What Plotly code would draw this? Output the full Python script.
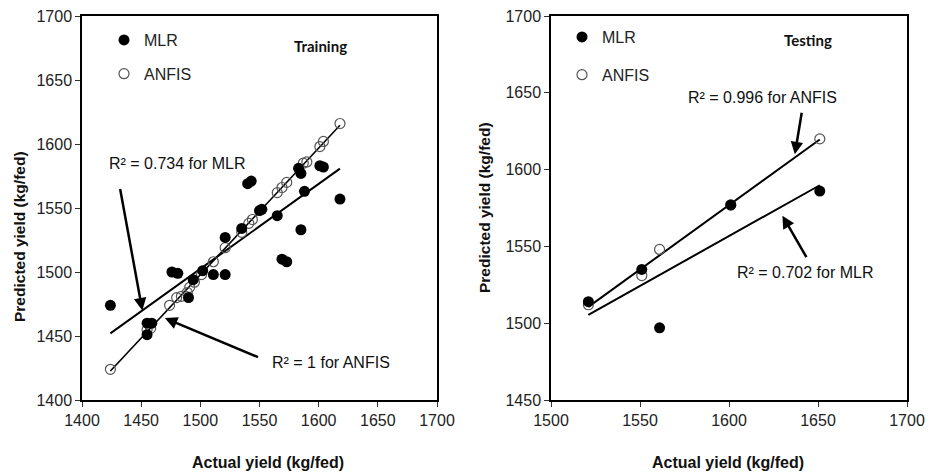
import numpy as np
import plotly.graph_objects as go

W, H = 929, 474

# ---------------- data ----------------
# Training (left panel)
train_mlr_actual = [1424, 1455, 1459, 1455, 1476, 1481, 1490, 1494, 1502, 1511, 1521, 1521,
                    1535, 1540, 1543, 1550, 1552, 1565, 1569, 1573, 1583, 1585, 1585, 1588,
                    1601, 1604, 1618]
train_mlr_pred = [1474, 1460, 1460, 1451, 1500, 1499, 1480, 1494, 1501, 1498, 1498, 1527,
                  1534, 1569, 1571, 1548, 1549, 1544, 1510, 1508, 1581, 1577, 1533, 1563,
                  1583, 1582, 1557]
train_anfis_actual = [1424, 1455, 1458, 1474, 1480, 1484, 1489, 1491, 1495, 1501, 1511, 1521,
                      1535, 1541, 1544, 1565, 1569, 1573, 1587, 1590, 1601, 1604, 1618]
train_anfis_pred = [1424, 1455, 1456, 1474, 1480, 1481, 1484, 1488, 1492, 1498, 1508, 1519,
                    1531, 1538, 1541, 1562, 1566, 1570, 1585, 1586, 1598, 1602, 1616]

# Testing (right panel)
test_mlr_actual = [1521, 1551, 1561, 1601, 1651]
test_mlr_pred = [1514, 1535, 1497, 1577, 1586]
test_anfis_actual = [1521, 1551, 1561, 1601, 1651]
test_anfis_pred = [1512, 1531, 1548, 1577, 1620]

left_x_ticks = [1400, 1450, 1500, 1550, 1600, 1650, 1700]
left_y_ticks = [1400, 1450, 1500, 1550, 1600, 1650, 1700]
right_x_ticks = [1500, 1550, 1600, 1650, 1700]
right_y_ticks = [1450, 1500, 1550, 1600, 1650, 1700]

FONT = "Liberation Sans, Arial, sans-serif"


def px(x, y):
    return x / W, 1 - y / H


def fit_line(x, y):
    x = np.asarray(x, float)
    y = np.asarray(y, float)
    k, b = np.polyfit(x, y, 1)
    xs = np.array([x.min(), x.max()])
    return xs, k * xs + b


fig = go.Figure()

# regression lines
for xa, ya, xax, yax, w in [
    (train_mlr_actual, train_mlr_pred, "x", "y", 2),
    (train_anfis_actual, train_anfis_pred, "x", "y", 1.6),
    (test_mlr_actual, test_mlr_pred, "x2", "y2", 2),
    (test_anfis_actual, test_anfis_pred, "x2", "y2", 2),
]:
    lx, ly = fit_line(xa, ya)
    fig.add_trace(go.Scatter(x=lx, y=ly, mode="lines", xaxis=xax, yaxis=yax,
                             line=dict(color="black", width=w), showlegend=False,
                             hoverinfo="skip"))

open_marker = dict(symbol="circle-open", size=10, color="#555555", line=dict(width=1.2))
fill_marker = dict(symbol="circle", size=11, color="black")

fig.add_trace(go.Scatter(x=train_anfis_actual, y=train_anfis_pred, mode="markers", name="ANFIS",
                         marker=open_marker, xaxis="x", yaxis="y", legend="legend",
                         legendgroup="a", legendrank=2))
fig.add_trace(go.Scatter(x=train_mlr_actual, y=train_mlr_pred, mode="markers", name="MLR",
                         marker=fill_marker, xaxis="x", yaxis="y", legend="legend",
                         legendgroup="m", legendrank=1))
fig.add_trace(go.Scatter(x=test_anfis_actual, y=test_anfis_pred, mode="markers", name="ANFIS",
                         marker=open_marker, xaxis="x2", yaxis="y2", legend="legend2",
                         legendgroup="a2", legendrank=2))
fig.add_trace(go.Scatter(x=test_mlr_actual, y=test_mlr_pred, mode="markers", name="MLR",
                         marker=fill_marker, xaxis="x2", yaxis="y2", legend="legend2",
                         legendgroup="m2", legendrank=1))

axis_common = dict(showgrid=False, zeroline=False, showline=True, linecolor="black",
                   linewidth=1.5, mirror=True, ticks="outside", ticklen=5, tickcolor="#333",
                   automargin=False,
                   tickfont=dict(family=FONT, size=16, color="#222"))

lx0, ly0 = px(82, 400)
lx1, ly1 = px(437, 16)
rx0, _ = px(551, 400)
rx1, _ = px(907, 16)

fig.update_layout(
    template="none",
    width=W, height=H,
    margin=dict(l=0, r=0, t=0, b=0, pad=0, autoexpand=False),
    paper_bgcolor="white", plot_bgcolor="white",
    xaxis=dict(domain=[lx0, lx1], range=[1400, 1700], tickvals=left_x_ticks, anchor="y", **axis_common),
    yaxis=dict(domain=[ly0, ly1], range=[1400, 1700], tickvals=left_y_ticks, anchor="x", **axis_common),
    xaxis2=dict(domain=[rx0, rx1], range=[1500, 1700], tickvals=right_x_ticks, anchor="y2", **axis_common),
    yaxis2=dict(domain=[ly0, ly1], range=[1450, 1700], tickvals=right_y_ticks, anchor="x2", **axis_common),
    legend=dict(x=px(104, 0)[0], y=px(0, 23)[1], xanchor="left", yanchor="top",
                font=dict(family=FONT, size=16, color="#222"), bgcolor="rgba(0,0,0,0)",
                traceorder="grouped", tracegroupgap=10),
    legend2=dict(x=px(562, 0)[0], y=px(0, 20)[1], xanchor="left", yanchor="top",
                 font=dict(family=FONT, size=16, color="#222"), bgcolor="rgba(0,0,0,0)",
                 traceorder="grouped", tracegroupgap=14),
)

ann = []


def text_px(t, x, y, size=16, bold=False, family=FONT, angle=0):
    ax, ay = px(x, y)
    ann.append(dict(text=f"<b>{t}</b>" if bold else t, x=ax, y=ay, xref="paper", yref="paper",
                    showarrow=False, xanchor="center", yanchor="middle", textangle=angle,
                    font=dict(family=family, size=size, color="#111")))


text_px("Training", 320, 46, size=15, bold=True, family="Lato, Open Sans, sans-serif")
text_px("Testing", 808, 40, size=15, bold=True, family="Lato, Open Sans, sans-serif")
text_px("R² = 0.734 for MLR", 177, 163)
text_px("R² = 1 for ANFIS", 331, 362)
text_px("R² = 0.996 for ANFIS", 762, 97)
text_px("R² = 0.702 for MLR", 805, 272)
text_px("Actual yield (kg/fed)", 268, 462, size=16, bold=True)
text_px("Actual yield (kg/fed)", 728, 462, size=16, bold=True)
text_px("Predicted yield (kg/fed)", 19, 237, size=15.5, bold=True, angle=-90)
text_px("Predicted yield (kg/fed)", 484, 208, size=15.5, bold=True, angle=-90)


def arrow(xref, yref, tail, head):
    ann.append(dict(text="", x=head[0], y=head[1], ax=tail[0], ay=tail[1],
                    xref=xref, yref=yref, axref=xref, ayref=yref, showarrow=True,
                    arrowhead=2, arrowsize=1, arrowwidth=2.5, arrowcolor="black"))


arrow("x", "y", (1432, 1566), (1451, 1470))
arrow("x", "y", (1550, 1433), (1470, 1464))
arrow("x2", "y2", (1641, 1638), (1637, 1610))
arrow("x2", "y2", (1644, 1542), (1630, 1570))

fig.update_layout(annotations=ann)

fig.write_html("out.html")
